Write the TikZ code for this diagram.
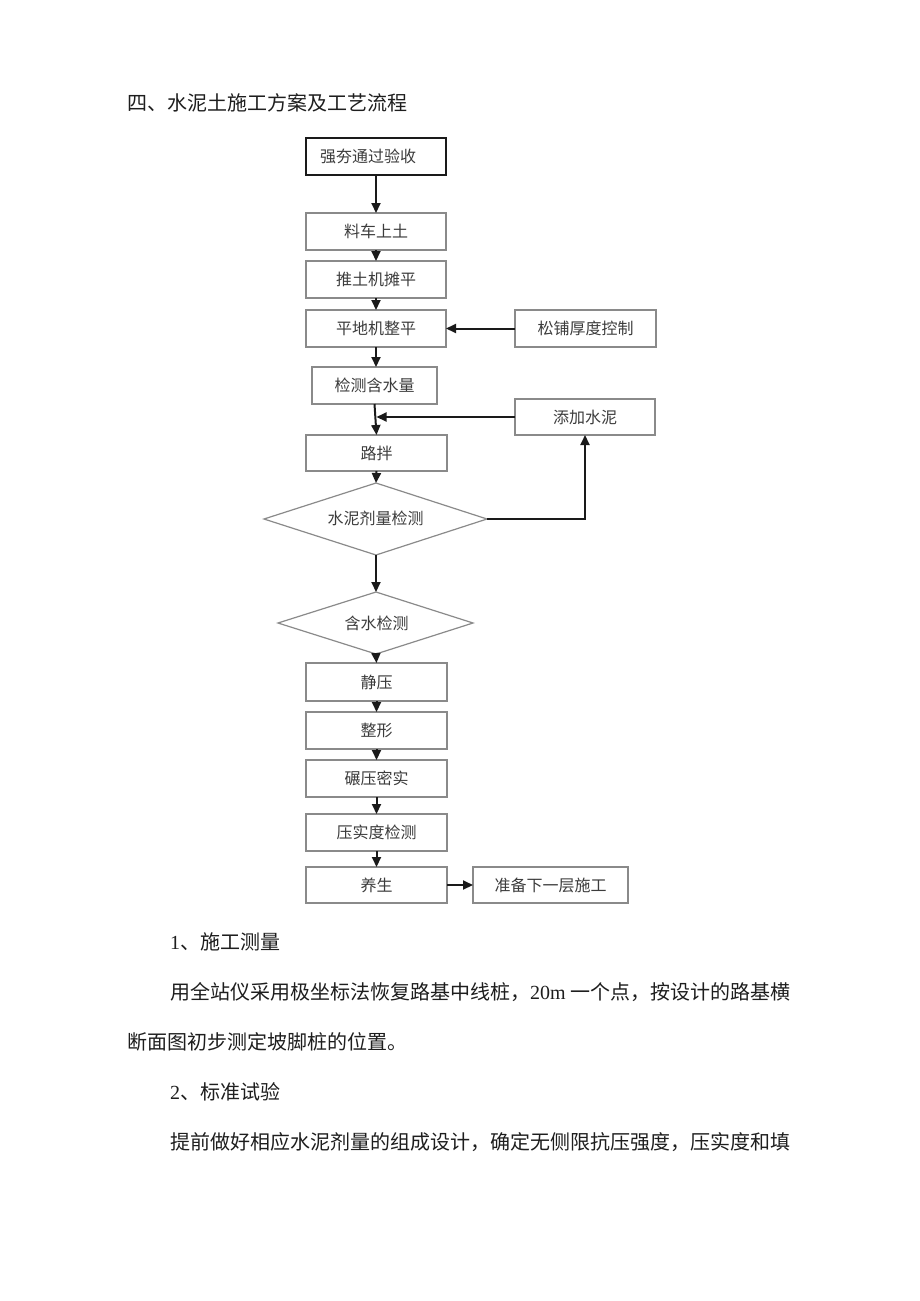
\documentclass[tikz,border=0pt]{standalone}
\usepackage{fontspec}
\setmainfont{Liberation Serif}
\newfontfamily\cjk{Noto Sans CJK SC}
\usetikzlibrary{shapes.geometric,arrows.meta}
\definecolor{boxline}{HTML}{8A8A8A}
\definecolor{boxtext}{HTML}{3C3C3C}
\definecolor{bodytext}{HTML}{1E1E1E}
\definecolor{arrowcol}{HTML}{1A1A1A}
\tikzset{
  every node/.style={inner sep=0pt, outer sep=0pt},
  flowbox/.style={draw=boxline, line width=1.2pt, rectangle, text=boxtext,
    font=\cjk\fontsize{16}{18}\selectfont, align=center},
  startbox/.style={flowbox, draw=arrowcol, line width=1.8pt},
  decisionline/.style={draw=boxline, line width=1.2pt, line join=miter},
  decisiontext/.style={text=boxtext, font=\cjk\fontsize{16}{18}\selectfont},
  flowarrow/.style={draw=arrowcol, line width=2pt, -{Triangle[length=10pt,width=9pt]}},
  plainline/.style={draw=arrowcol, line width=2pt},
  bodyline/.style={anchor=west, text=bodytext, font=\fontsize{20}{24}\selectfont},
}
\begin{document}
\begin{tikzpicture}[x=1pt,y=-1pt]
\useasboundingbox[fill=white] (0,0) rectangle (920,1301);

% heading
\node[bodyline] (title) at (127,103) {\cjk 四、水泥土施工方案及工艺流程};

% main chain
\node[startbox, minimum width=140, minimum height=37] (b1) at (376,156.5) {\hspace*{-16pt}强夯通过验收};
\node[flowbox, minimum width=140, minimum height=37] (b2) at (376,231.5) {料车上土};
\node[flowbox, minimum width=140, minimum height=37] (b3) at (376,279.5) {推土机摊平};
\node[flowbox, minimum width=140, minimum height=37] (b4) at (376,328.5) {平地机整平};
\node[flowbox, minimum width=141, minimum height=37] (s1) at (585.5,328.5) {松铺厚度控制};
\node[flowbox, minimum width=125, minimum height=37] (b5) at (374.5,385.5) {检测含水量};
\node[flowbox, minimum width=140, minimum height=36] (t1) at (585,417) {添加水泥};
\node[flowbox, minimum width=141, minimum height=36] (b6) at (376.5,453) {路拌};

% decision 1
\coordinate (d1n) at (376,483);
\coordinate (d1e) at (487,519);
\coordinate (d1s) at (376,555);
\coordinate (d1w) at (264,519);
\draw[decisionline] (d1n) -- (d1e) -- (d1s) -- (d1w) -- cycle;
\node[decisiontext] (d1) at (375.5,518) {水泥剂量检测};

% decision 2
\coordinate (d2n) at (376,592);
\coordinate (d2e) at (473,623);
\coordinate (d2s) at (376,654);
\coordinate (d2w) at (278,623);
\draw[decisionline] (d2n) -- (d2e) -- (d2s) -- (d2w) -- cycle;
\node[decisiontext] (d2) at (376.5,623) {含水检测};

\node[flowbox, minimum width=141, minimum height=38] (b7) at (376.5,682) {静压};
\node[flowbox, minimum width=141, minimum height=37] (b8) at (376.5,730.5) {整形};
\node[flowbox, minimum width=141, minimum height=37] (b9) at (376.5,778.5) {碾压密实};
\node[flowbox, minimum width=141, minimum height=37] (b10) at (376.5,832.5) {压实度检测};
\node[flowbox, minimum width=141, minimum height=36] (b11) at (376.5,885) {养生};
\node[flowbox, minimum width=155, minimum height=36] (n1) at (550.5,885) {准备下一层施工};

% connectors
\draw[flowarrow] (b1.south) -- (b2.north);
\draw[flowarrow] (b2.south) -- (b3.north);
\draw[flowarrow] (b3.south) -- (b4.north);
\draw[flowarrow] (s1.west) -- (b4.east);
\draw[flowarrow] (b4.south) -- (b4.south |- b5.north);
\draw[flowarrow] (b5.south) -- (b6.north);
\draw[flowarrow] (t1.west) -- (b6.north |- t1.west);
\draw[flowarrow] (b6.south) -- (d1n);
\draw[flowarrow] (d1e) -- (t1.south |- d1e) -- (t1.south);
\draw[flowarrow] (d1s) -- (d2n);
\draw[flowarrow] (d2s) -- (b7.north);
\draw[flowarrow] (b7.south) -- (b8.north);
\draw[flowarrow] (b8.south) -- (b9.north);
\draw[flowarrow] (b9.south) -- (b10.north);
\draw[flowarrow] (b10.south) -- (b11.north);
\draw[flowarrow] (b11.east) -- (n1.west);

% body text
\node[bodyline] (p1) at (170,942) {1{\cjk 、施工测量}};
\node[bodyline] (p2) at (170,992) {{\cjk 用全站仪采用极坐标法恢复路基中线桩，}20m {\cjk 一个点，按设计的路基横}};
\node[bodyline] (p3) at (127,1042) {\cjk 断面图初步测定坡脚桩的位置。};
\node[bodyline] (p4) at (170,1092) {2{\cjk 、标准试验}};
\node[bodyline] (p5) at (170,1142) {\cjk 提前做好相应水泥剂量的组成设计，确定无侧限抗压强度，压实度和填};
\end{tikzpicture}
\end{document}
